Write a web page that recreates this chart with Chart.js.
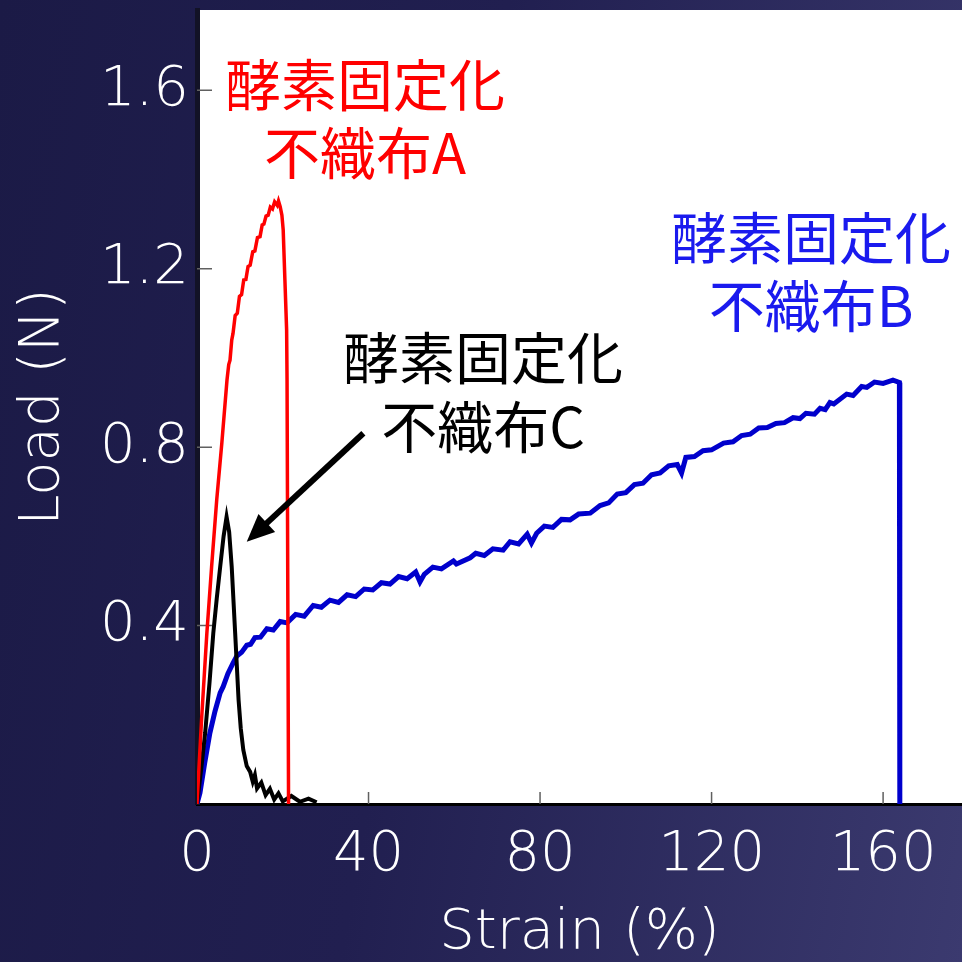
<!DOCTYPE html>
<html>
<head>
<meta charset="utf-8">
<script src="https://cdn.jsdelivr.net/npm/chart.js@4.4.0/dist/chart.umd.min.js"></script>
<style>
html, body { margin: 0; padding: 0; }
body {
    width: 962px;
    height: 962px;
    overflow: hidden;
    background: linear-gradient(100deg, #1b1a46 0%, #211f50 45%, #3b3a6f 100%);
}
#wrap { position: relative; width: 962px; height: 962px; }
</style>
</head>
<body>
<div id="wrap"><canvas id="loadChart"></canvas></div>
<script>
// values: strain (%) and load (N)
const strainA = [0, 1.1, 2.3, 3.4, 4.6, 5.8, 7.0, 7.4, 7.7, 8.1, 8.4, 8.9, 9.4, 9.9, 10.4, 10.9, 11.4, 11.9, 12.4, 13.0,
    13.5, 14.1, 14.7, 15.2, 15.6, 16.1, 16.6, 17.1, 17.6, 18.1, 18.7, 19.0, 19.4, 19.8, 20.1, 20.5, 20.9, 21.0, 21.35];
const loadA = [0, 0.195, 0.383, 0.531, 0.682, 0.81, 0.951, 0.985, 0.995, 1.040, 1.055, 1.095, 1.100, 1.138, 1.142, 1.175, 1.176, 1.205, 1.208, 1.238,
    1.240, 1.270, 1.272, 1.298, 1.300, 1.318, 1.320, 1.338, 1.334, 1.350, 1.342, 1.352, 1.339, 1.320, 1.287, 1.175, 1.063, 0.951, 0];

const strainB = [0, 0.7, 1.8, 3.0, 4.2, 5.4, 6.1, 7.2, 8.4, 9.3, 10.4, 11.6, 12.5, 13.5, 14.8, 16.3, 17.8, 19.4, 21.0, 23.0,
    25.0, 27.1, 29.0, 31.0, 33.0, 35.0, 37.0, 39.0, 41.0, 43.0, 45.0, 47.0, 49.0, 51.0, 52.0, 53.0, 55.0, 57.0, 59.8, 60.5,
    63.7, 65.0, 67.0, 69.0, 71.4, 73.0, 75.0, 77.0, 78.0, 79.2, 81.0, 83.0, 85.0, 87.0, 89.0, 91.7, 94.0, 96.0, 98.0, 100.0,
    102.0, 104.0, 106.0, 108.0, 110.0, 112.0, 113.0, 114.0, 116.0, 118.0, 120.0, 122.8, 125.0, 127.0, 129.0, 131.0, 133.0, 135.0, 137.0, 139.0,
    140.6, 142.0, 144.0, 145.3, 146.5, 147.6, 148.5, 151.5, 153.0, 155.0, 156.2, 158.0, 160.0, 162.3, 163.8, 163.9];
const loadB = [0, 0.025, 0.092, 0.159, 0.208, 0.249, 0.263, 0.292, 0.316, 0.332, 0.340, 0.356, 0.358, 0.373, 0.374, 0.393, 0.390, 0.409, 0.406, 0.425,
    0.421, 0.445, 0.441, 0.457, 0.452, 0.469, 0.465, 0.482, 0.480, 0.496, 0.493, 0.510, 0.505, 0.520, 0.498, 0.515, 0.531, 0.527, 0.545, 0.538,
    0.552, 0.562, 0.557, 0.572, 0.569, 0.588, 0.583, 0.605, 0.585, 0.607, 0.623, 0.620, 0.638, 0.637, 0.650, 0.652, 0.669, 0.675, 0.695, 0.698,
    0.716, 0.719, 0.738, 0.742, 0.758, 0.761, 0.742, 0.777, 0.779, 0.792, 0.794, 0.809, 0.812, 0.826, 0.829, 0.843, 0.844, 0.853, 0.855, 0.866,
    0.864, 0.876, 0.874, 0.887, 0.884, 0.900, 0.897, 0.919, 0.916, 0.936, 0.934, 0.946, 0.943, 0.950, 0.945, 0];

const strainC = [0, 1.0, 1.9, 2.9, 3.8, 4.6, 5.4, 6.2, 6.9, 7.5, 8.1, 8.9, 9.7, 10.2, 10.8, 11.6, 12.4, 13.0, 13.5, 14.0, 15.0, 16.0, 17.0, 18.0, 19.0, 20.0, 22.0, 24.0, 26.0, 27.9];
const loadC = [0, 0.08, 0.159, 0.27, 0.383, 0.46, 0.531, 0.60, 0.644, 0.61, 0.531, 0.383, 0.233, 0.17, 0.121, 0.085, 0.072, 0.05, 0.065, 0.035, 0.048, 0.02, 0.034, 0.01, 0.024, 0.006, 0.018, 0.005, 0.012, 0.004];

const xTicks = [0, 40, 80, 120, 160];
const yTicks = [0.4, 0.8, 1.2, 1.6];

const labelA = ['酵素固定化', '不織布A'];
const labelB = ['酵素固定化', '不織布B'];
const labelC = ['酵素固定化', '不織布C'];

const tickFont = 'DejaVu Sans';
const cjkFont = '"Noto Sans CJK JP", "Noto Sans CJK SC", sans-serif';

function toPoints(xs, ys) {
    return xs.map((x, i) => ({ x: x, y: ys[i] }));
}

// white plot area
const plotBackground = {
    id: 'plotBackground',
    beforeDraw(chart) {
        const { ctx, chartArea: a } = chart;
        ctx.save();
        ctx.fillStyle = '#ffffff';
        ctx.fillRect(a.left, a.top, a.right - a.left, a.bottom - a.top);
        ctx.restore();
    }
};

// tick marks pointing into the plot
const innerTicks = {
    id: 'innerTicks',
    beforeDatasetsDraw(chart) {
        const { ctx, chartArea: a, scales } = chart;
        ctx.save();
        ctx.strokeStyle = '#606060';
        ctx.lineWidth = 1.5;
        ctx.beginPath();
        scales.x.ticks.forEach((t, i) => {
            const px = scales.x.getPixelForTick(i);
            if (t.value === 0) return;
            ctx.moveTo(px, a.bottom);
            ctx.lineTo(px, a.bottom - 12);
        });
        scales.y.ticks.forEach((t, i) => {
            const py = scales.y.getPixelForTick(i);
            ctx.moveTo(a.left, py);
            ctx.lineTo(a.left + 15, py);
        });
        ctx.stroke();
        ctx.restore();
    }
};

// sample names and the arrow to curve C
const annotations = {
    id: 'annotations',
    afterDatasetsDraw(chart) {
        const { ctx, scales: { x, y } } = chart;
        ctx.save();
        ctx.font = '56px ' + cjkFont;
        ctx.textAlign = 'center';
        ctx.textBaseline = 'middle';

        const put = (lines, sx, l1, l2, color) => {
            ctx.fillStyle = color;
            ctx.fillText(lines[0], x.getPixelForValue(sx), y.getPixelForValue(l1));
            ctx.fillText(lines[1], x.getPixelForValue(sx), y.getPixelForValue(l2));
        };
        put(labelA, 39.2, 1.612, 1.460, '#ff0000');
        put(labelB, 143.2, 1.269, 1.117, '#1a1aee');
        put(labelC, 66.7, 1.000, 0.845, '#000000');

        // arrow
        const x0 = x.getPixelForValue(38.8), y0 = y.getPixelForValue(0.831);
        const x1 = x.getPixelForValue(11.6), y1 = y.getPixelForValue(0.588);
        const ang = Math.atan2(y1 - y0, x1 - x0);
        const head = 30;
        ctx.strokeStyle = '#000';
        ctx.fillStyle = '#000';
        ctx.lineWidth = 6;
        ctx.beginPath();
        ctx.moveTo(x0, y0);
        ctx.lineTo(x1 - Math.cos(ang) * head * 0.8, y1 - Math.sin(ang) * head * 0.8);
        ctx.stroke();
        ctx.beginPath();
        ctx.moveTo(x1, y1);
        ctx.lineTo(x1 - head * Math.cos(ang - 0.42), y1 - head * Math.sin(ang - 0.42));
        ctx.lineTo(x1 - head * Math.cos(ang + 0.42), y1 - head * Math.sin(ang + 0.42));
        ctx.closePath();
        ctx.fill();
        ctx.restore();
    }
};

const ctx = document.getElementById('loadChart').getContext('2d');
new Chart(ctx, {
    type: 'line',
    data: {
        datasets: [
            {
                label: labelA.join(''),
                data: toPoints(strainA, loadA),
                borderColor: '#ff0000',
                borderWidth: 3.5,
                order: 0
            },
            {
                label: labelC.join(''),
                data: toPoints(strainC, loadC),
                borderColor: '#000000',
                borderWidth: 4,
                order: 1
            },
            {
                label: labelB.join(''),
                data: toPoints(strainB, loadB),
                borderColor: '#0000cc',
                borderWidth: 5,
                order: 2
            }
        ]
    },
    options: {
        responsive: true,
        maintainAspectRatio: false,
        animation: false,
        parsing: false,
        elements: {
            point: { radius: 0 },
            line: { tension: 0, fill: false }
        },
        layout: { padding: { top: 10, left: 0, right: 0, bottom: 0 } },
        plugins: {
            legend: { display: false },
            tooltip: { enabled: false }
        },
        scales: {
            x: {
                type: 'linear',
                min: 0,
                max: 178.4,
                afterBuildTicks: s => { s.ticks = xTicks.map(v => ({ value: v })); },
                afterFit: s => { s.height = 158; s.paddingLeft = 0; s.paddingRight = 0; },
                grid: { display: false },
                border: { display: true, color: '#000000', width: 3 },
                ticks: {
                    color: '#ffffff',
                    font: { family: tickFont, size: 56, weight: '200' },
                    padding: 10,
                    autoSkip: false,
                    maxRotation: 0,
                    callback: v => String(v)
                },
                title: {
                    display: true,
                    text: 'Strain (%)',
                    color: '#ffffff',
                    font: { family: tickFont, size: 56, weight: '200', lineHeight: 1 },
                    padding: { top: 0, bottom: 1 }
                }
            },
            y: {
                type: 'linear',
                min: 0,
                max: 1.78,
                afterBuildTicks: s => { s.ticks = yTicks.map(v => ({ value: v })); },
                afterFit: s => { s.width = 197; s.paddingTop = 0; s.paddingBottom = 0; },
                grid: { display: false },
                border: { display: true, color: '#121226', width: 5 },
                ticks: {
                    color: '#ffffff',
                    font: { family: tickFont, size: 56, weight: '200' },
                    padding: 0,
                    autoSkip: false,
                    callback: v => v.toFixed(1)
                },
                title: {
                    display: true,
                    text: 'Load (N)',
                    color: '#ffffff',
                    font: { family: tickFont, size: 56, weight: '200' },
                    padding: { top: 10, bottom: 0 }
                }
            }
        }
    },
    plugins: [plotBackground, innerTicks, annotations]
});
</script>
</body>
</html>
